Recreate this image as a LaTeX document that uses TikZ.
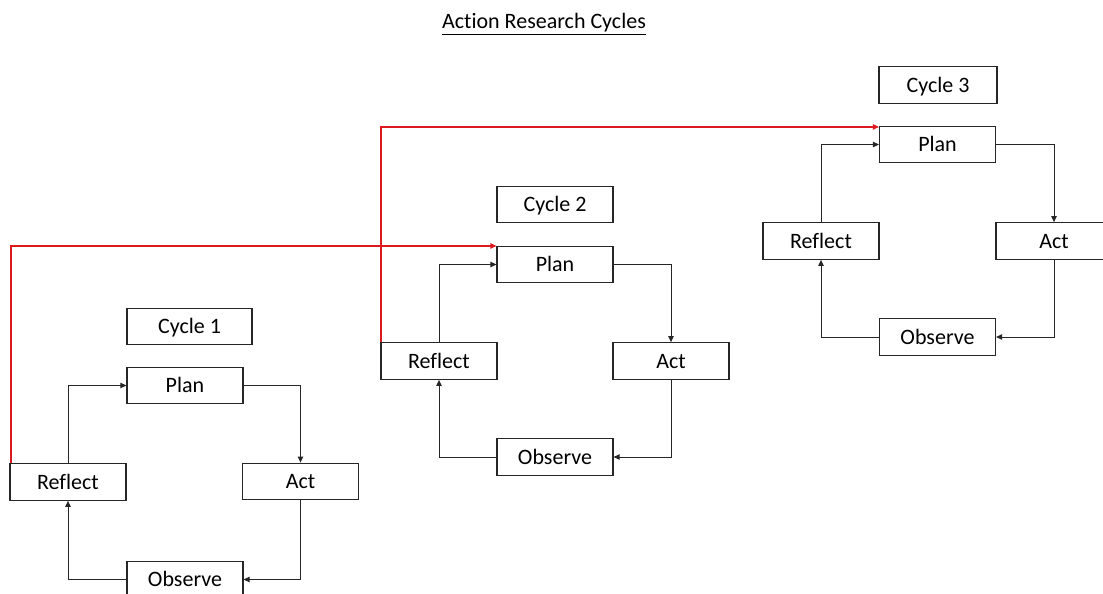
\documentclass[tikz,border=0pt]{standalone}
\usepackage{fontspec}
\setmainfont{Carlito}[Ligatures=NoCommon]
\usetikzlibrary{arrows.meta}
\definecolor{linkred}{RGB}{220,25,30}
\tikzset{
  box/.style={draw=black!85, line width=0.8pt, rectangle, inner sep=0pt,
    minimum width=87pt, minimum height=27.5pt,
    text height=10.8pt, text depth=0pt,
    font=\fontsize{16.5}{20}\selectfont},
  flow/.style={draw=black!85, line width=0.75pt, -{Triangle[length=4.5pt,width=4pt]}},
  link/.style={draw=linkred, line width=0.9pt, -{Triangle[length=4.5pt,width=4pt]}}
}
\begin{document}
\begin{tikzpicture}[x=0.75pt,y=-0.75pt]
\clip (0,0) rectangle (1103,593);
\fill[white] (0,0) rectangle (1103,593);
% title
\node[font=\fontsize{16.5}{20}\selectfont, inner sep=0pt] (title) at (544,24) {\underline{Action Research Cycles}};
% Cycle 1
\node[box, minimum width=93.75pt] (c1) at (189.5,326.5) {Cycle 1};
\node[box] (p1) at (185,385.5) {Plan};
\node[box] (r1) at (68,482) {Reflect};
\node[box] (a1) at (300.5,481.5) {Act};
\node[box] (o1) at (185,579.5) {Observe};
% Cycle 2
\node[box] (c2) at (555,204.5) {Cycle 2};
\node[box] (p2) at (555,264.5) {Plan};
\node[box] (r2) at (439,361) {Reflect};
\node[box] (a2) at (671,361) {Act};
\node[box] (o2) at (555,457) {Observe};
% Cycle 3
\node[box, minimum width=88.5pt] (c3) at (938,85) {Cycle 3};
\node[box] (p3) at (937.5,144.5) {Plan};
\node[box] (r3) at (821,241) {Reflect};
\node[box] (a3) at (1054,241) {Act};
\node[box] (o3) at (937.5,337) {Observe};
% cycle connectors
\foreach \i in {1,2,3}{
  \draw[flow] (r\i.north) |- (p\i.west);
  \draw[flow] (p\i.east) -| (a\i.north);
  \draw[flow] (a\i.south) |- (o\i.east);
  \draw[flow] (o\i.west) -| (r\i.south);
}
% links between cycles
\draw[link] ([xshift=1.1pt]r1.north west) |- ([yshift=-0.25pt]p2.north west);
\draw[link] ([xshift=0.4pt]r2.north west) |- ([yshift=-1pt]p3.north west);
\end{tikzpicture}
\end{document}
